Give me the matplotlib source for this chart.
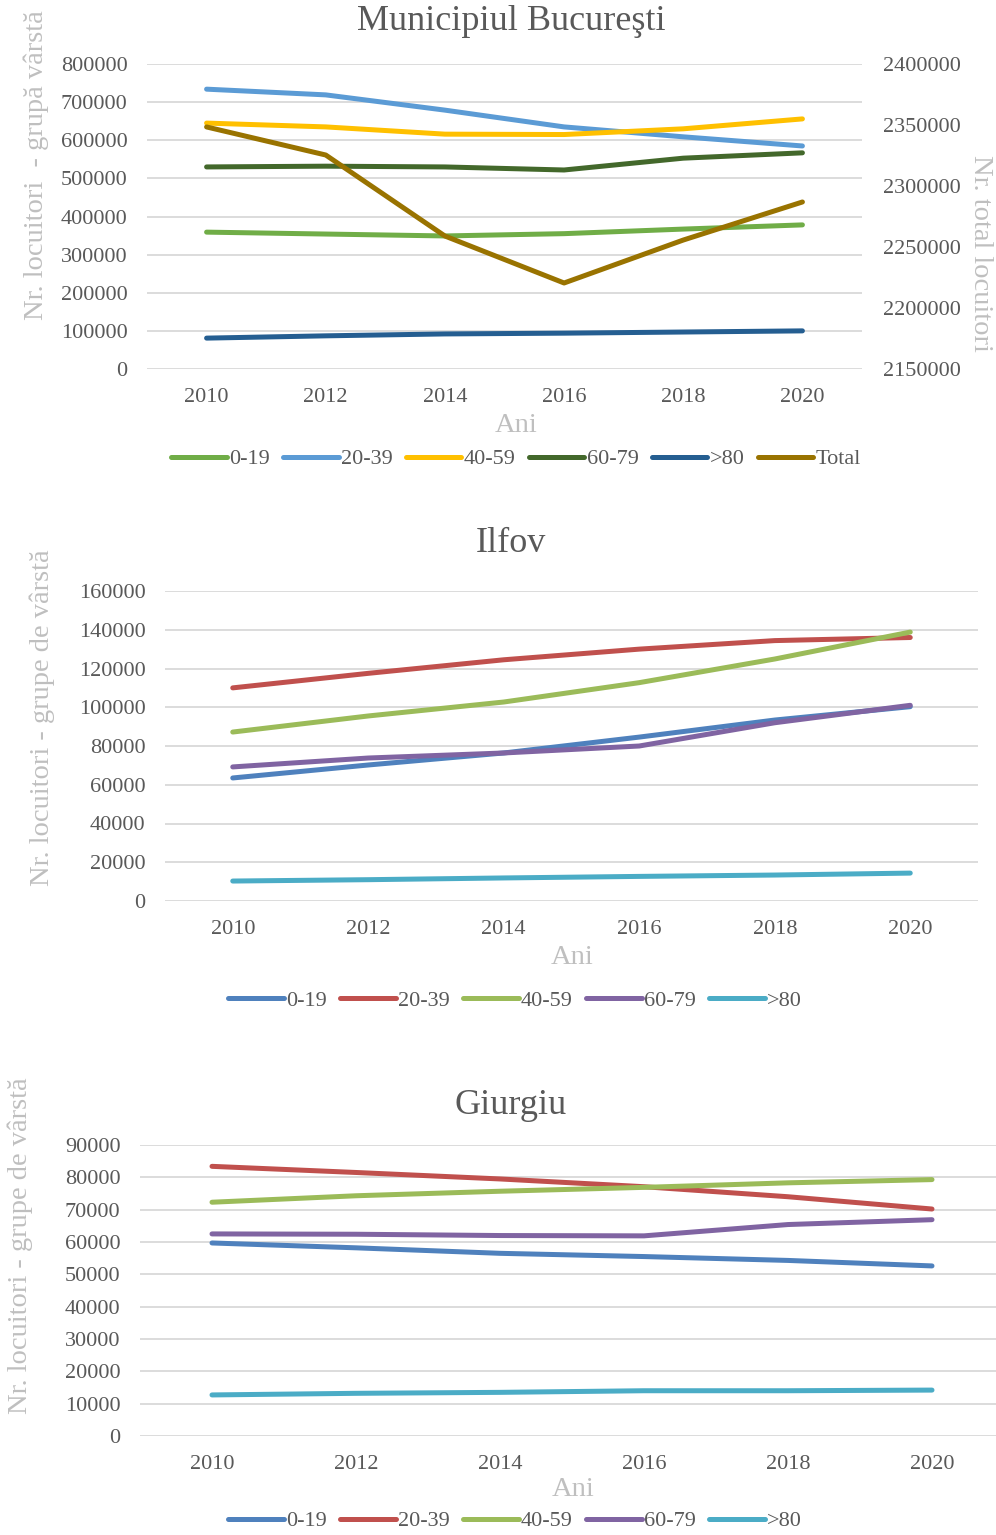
import matplotlib
matplotlib.use("Agg")
import matplotlib.pyplot as plt
from matplotlib.ticker import StrMethodFormatter

plt.rcParams['font.family'] = ['Liberation Serif', 'DejaVu Serif']

W, H = 996, 1535

years = [2010, 2012, 2014, 2016, 2018, 2020]
groups = ["0-19", "20-39", "40-59", "60-79", ">80"]

# Municipiul Bucuresti
buc_0_19 = [359000, 354000, 349000, 355000, 367000, 378000]
buc_20_39 = [734000, 719000, 679000, 635000, 609000, 585000]
buc_40_59 = [645000, 635000, 616000, 615000, 630000, 656000]
buc_60_79 = [530000, 532000, 530000, 522000, 553000, 567000]
buc_80 = [81000, 87000, 92000, 94000, 97000, 100000]
buc_total = [2348400, 2325400, 2259000, 2220500, 2255700, 2286900]

# Ilfov
ilf_0_19 = [63500, 70200, 76400, 84600, 93400, 100300]
ilf_20_39 = [110000, 117500, 124500, 130000, 134400, 136000]
ilf_40_59 = [87200, 95500, 102700, 112700, 124900, 138800]
ilf_60_79 = [69200, 73800, 76400, 80000, 92000, 101000]
ilf_80 = [10300, 11000, 11900, 12700, 13400, 14400]

# Giurgiu
giu_0_19 = [59700, 58200, 56500, 55500, 54300, 52600]
giu_20_39 = [83400, 81500, 79500, 77100, 74000, 70200]
giu_40_59 = [72300, 74300, 75700, 76900, 78300, 79300]
giu_60_79 = [62500, 62400, 62000, 61900, 65400, 66900]
giu_80 = [12700, 13200, 13500, 14000, 14000, 14200]

buc_colors = ["#70AD47", "#5B9BD5", "#FFC000", "#43682B", "#255E91"]
total_color = "#997300"
other_colors = ["#4F81BD", "#C0504D", "#9BBB59", "#8064A2", "#4BACC6"]

TICK = "#595959"
LABEL = "#BFBFBF"
GRID = "#D9D9D9"
LW = 3.6
TSIZE = 16
LSIZE = 20.5


def px_axes(fig, left, top, right, bottom):
    return fig.add_axes([left / W, 1 - bottom / H, (right - left) / W, (bottom - top) / H])


def ftext(fig, x, y, s, **kw):
    fig.text(x / W, 1 - y / H, s, **kw)


def style(ax, yticks, ymax):
    ax.set_xlim(2009, 2021)
    ax.set_ylim(0, ymax)
    ax.set_xticks(years)
    ax.set_yticks(yticks)
    ax.grid(axis='y', color=GRID, linewidth=1.3)
    ax.set_axisbelow(True)
    for s in ax.spines.values():
        s.set_visible(False)
    ax.tick_params(axis='both', length=0, colors=TICK, labelsize=TSIZE)
    ax.tick_params(axis='y', pad=14)
    ax.tick_params(axis='x', pad=14)


fig = plt.figure(figsize=(W / 100, H / 100), dpi=100)

# panel 1
ax1 = px_axes(fig, 147, 64, 862, 369)
handles = []
for vals, name, c in zip([buc_0_19, buc_20_39, buc_40_59, buc_60_79, buc_80], groups, buc_colors):
    h, = ax1.plot(years, vals, color=c, linewidth=LW, label=name, solid_capstyle='round')
    handles.append(h)
style(ax1, range(0, 800001, 100000), 800000)
ax2 = ax1.twinx()
h, = ax2.plot(years, buc_total, color=total_color, linewidth=LW, label="Total", solid_capstyle='round')
handles.append(h)
ax2.set_ylim(2150000, 2400000)
ax2.set_yticks(range(2150000, 2400001, 50000))
ax2.yaxis.set_major_formatter(StrMethodFormatter("{x:.0f}"))
for s in ax2.spines.values():
    s.set_visible(False)
ax2.tick_params(axis='y', length=0, colors=TICK, labelsize=TSIZE, pad=15)

ftext(fig, 511, 22, "Municipiul Bucureşti", ha='center', va='center', fontsize=26, color=TICK)
ftext(fig, 36, 165, "Nr. locuitori  - grupă vârstă", ha='center', va='center', rotation=90, fontsize=LSIZE, color=LABEL)
ftext(fig, 980, 253, "Nr. total locuitori", ha='center', va='center', rotation=270, fontsize=LSIZE, color=LABEL)
ftext(fig, 516, 425, "Ani", ha='center', va='center', fontsize=LSIZE, color=LABEL)
fig.legend(handles=handles, loc='center', bbox_to_anchor=(516 / W, 1 - 459 / H), ncol=6, frameon=False,
           fontsize=TSIZE, handlelength=2.5, handletextpad=0.1, columnspacing=0.6, labelcolor=TICK)


def small_panel(top, bottom, left, right, series, yticks, ymax, title, title_y, ylab_x, ylab_y, ani_y, leg_y):
    ax = px_axes(fig, left, top, right, bottom)
    hs = []
    for vals, name, c in zip(series, groups, other_colors):
        h, = ax.plot(years, vals, color=c, linewidth=LW, label=name, solid_capstyle='round')
        hs.append(h)
    style(ax, yticks, ymax)
    ftext(fig, 511, title_y, title, ha='center', va='center', fontsize=26, color=TICK)
    ftext(fig, ylab_x, ylab_y, "Nr. locuitori - grupe de vârstă", ha='center', va='center', rotation=90,
          fontsize=LSIZE, color=LABEL)
    ftext(fig, (left + right) / 2 + 1, ani_y, "Ani", ha='center', va='center', fontsize=LSIZE, color=LABEL)
    fig.legend(handles=hs, loc='center', bbox_to_anchor=(515 / W, 1 - leg_y / H), ncol=5, frameon=False,
               fontsize=TSIZE, handlelength=2.5, handletextpad=0.1, columnspacing=0.6, labelcolor=TICK)
    return ax


small_panel(591, 901, 165, 978, [ilf_0_19, ilf_20_39, ilf_40_59, ilf_60_79, ilf_80],
            range(0, 160001, 20000), 160000, "Ilfov", 543, 42, 718, 957, 1001)
small_panel(1145, 1436, 140, 1004, [giu_0_19, giu_20_39, giu_40_59, giu_60_79, giu_80],
            range(0, 90001, 10000), 90000, "Giurgiu", 1105, 20, 1246, 1489, 1521)

fig.savefig("out.png", dpi=100)
